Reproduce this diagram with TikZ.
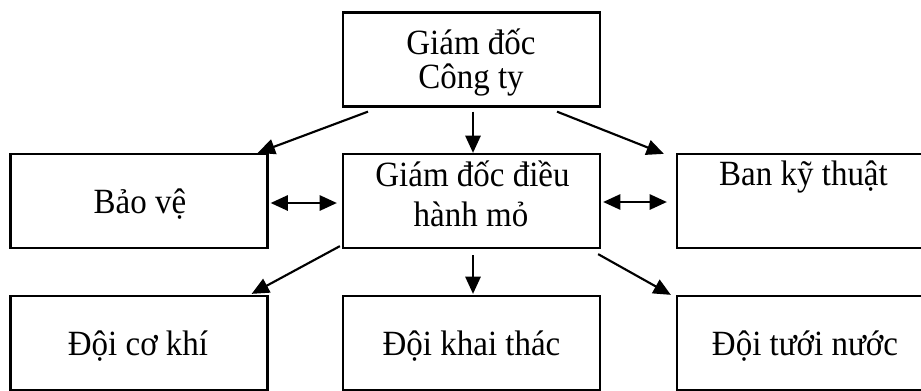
\documentclass[tikz,border=0pt]{standalone}
\usepackage{fontspec}
\setmainfont{Liberation Serif}[FakeStretch=0.93]
\usetikzlibrary{arrows.meta}
\begin{document}
\begin{tikzpicture}[x=0.75pt,y=-0.75pt,
  box/.style={draw=black,line width=1.7pt,rectangle,minimum width=257*0.75pt,minimum height=94*0.75pt,inner sep=0pt},
  txt/.style={anchor=base,inner sep=0pt,font=\fontsize{26.6pt}{30pt}\selectfont},
  arr/.style={line width=1.6pt,-{Triangle[length=13pt,width=11.5pt]}},
  darr/.style={line width=1.6pt,{Triangle[length=13pt,width=11.5pt]}-{Triangle[length=13pt,width=11.5pt]}}]
\useasboundingbox (0,0) rectangle (921,390);
% boxes
\node[box] (top) at (471.5,59.5) {};
\node[box] (left) at (139,201) {};
\node[box] (mid) at (471.5,201) {};
\node[box] (right) at (805.5,201) {};
\node[box] (bl) at (139,343) {};
\node[box] (bm) at (471.5,343) {};
\node[box] (br) at (805.5,343) {};
% texts
\node[txt] (t1) at (471,54) {Giám đốc};
\node[txt] (t2) at (471,88) {Công ty};
\node[txt] (m1) at (472.5,186) {Giám đốc điều};
\node[txt] (m2) at (471,226) {hành mỏ};
\node[txt] (l1) at (140,213) {Bảo vệ};
\node[txt] (r1) at (803.5,185) {Ban kỹ thuật};
\node[txt] (b1) at (138,355) {Đội cơ khí};
\node[txt] (b2) at (471.5,355) {Đội khai thác};
\node[txt] (b3) at (805,355) {Đội tưới nước};
% connectors
\draw[arr] ([shift={(-103.5,4)}]top.south) -- ([shift={(-11,0)}]left.north east);
\draw[arr] ([shift={(1.5,4)}]top.south) -- ([shift={(1.5,0)}]mid.north);
\draw[arr] ([shift={(85.5,4)}]top.south) -- ([shift={(-12,1)}]right.north west);
\draw[darr] ([shift={(2,2)}]left.east) -- ([shift={(-5,2)}]mid.west);
\draw[darr] ([shift={(2,1)}]mid.east) -- ([shift={(-9,1)}]right.west);
\draw[arr] ([shift={(-2,-3)}]mid.south west) -- ([shift={(-17,-1)}]bl.north east);
\draw[arr] ([shift={(1.5,6)}]mid.south) -- ([shift={(1.5,-1)}]bm.north);
\draw[arr] ([shift={(-3,5)}]mid.south east) -- ([shift={(-5,0)}]br.north west);
\end{tikzpicture}
\end{document}
